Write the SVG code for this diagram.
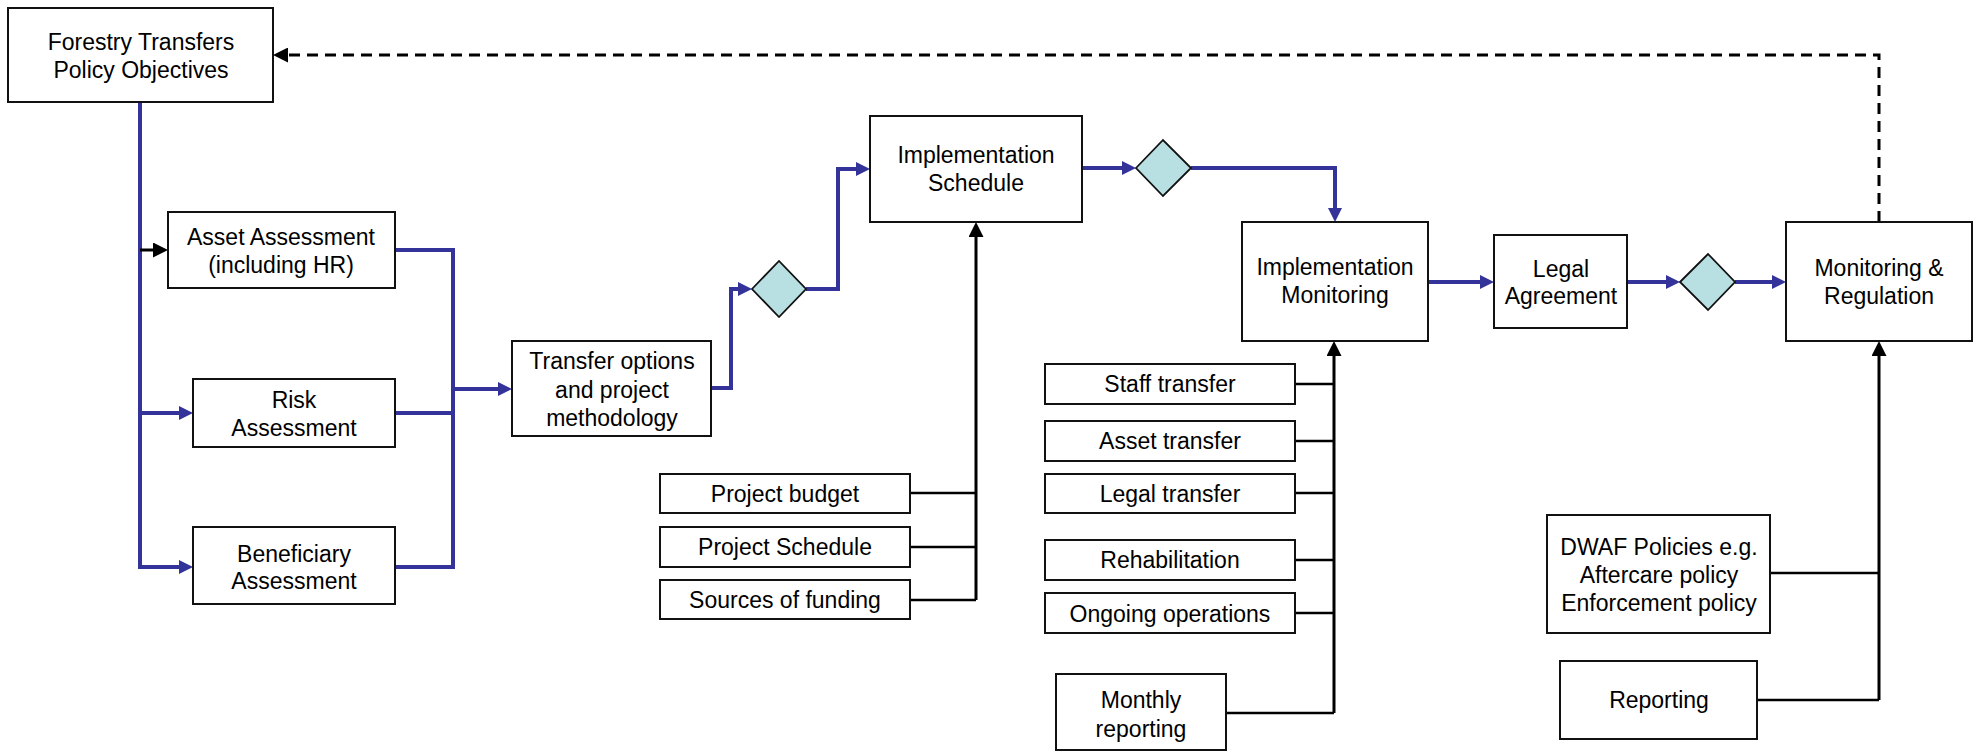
<svg xmlns="http://www.w3.org/2000/svg" width="1981" height="752" viewBox="0 0 1981 752">
<style>
.box{fill:#fff;stroke:#111;stroke-width:2}
.dia{fill:#b8dfe2;stroke:#111;stroke-width:1.8}
text{font-family:"Liberation Sans",Arial,sans-serif;font-size:23px;fill:#000;text-anchor:middle}
.bl{fill:none;stroke:#333399;stroke-width:4}
.bk{fill:none;stroke:#000;stroke-width:3}
.bk2{fill:none;stroke:#000;stroke-width:2.5}
.dash{fill:none;stroke:#000;stroke-width:3;stroke-dasharray:11 7}
</style>
<defs>
<marker id="ab" viewBox="0 0 14 14" refX="2" refY="7" markerWidth="14" markerHeight="14" markerUnits="userSpaceOnUse" orient="auto"><path d="M0,0 L14,7 L0,14 z" fill="#333399"/></marker>
<marker id="ak" viewBox="0 0 15 15" refX="2" refY="7.5" markerWidth="15" markerHeight="15" markerUnits="userSpaceOnUse" orient="auto"><path d="M0,0 L15,7.5 L0,15 z" fill="#000"/></marker>
</defs>
<rect width="1981" height="752" fill="#fff"/>
<g id="connectors">
<path class="dash" d="M1879,222 V55 H286" marker-end="url(#ak)"/>
<path class="bl" d="M140,102 V567 H181" marker-end="url(#ab)"/>
<path class="bl" d="M140,413 H181" marker-end="url(#ab)"/>
<path class="bk" d="M140,250 H155" marker-end="url(#ak)"/>
<path class="bl" d="M395,250 H453 V567 H395"/>
<path class="bl" d="M395,413 H453"/>
<path class="bl" d="M453,389 H500" marker-end="url(#ab)"/>
<path class="bl" d="M711,388 H731 V289 H740" marker-end="url(#ab)"/>
<path class="bl" d="M806,289 H838 V169 H858" marker-end="url(#ab)"/>
<path class="bl" d="M1082,168 H1124" marker-end="url(#ab)"/>
<path class="bl" d="M1191,168 H1335 V210" marker-end="url(#ab)"/>
<path class="bl" d="M1428,282 H1482" marker-end="url(#ab)"/>
<path class="bl" d="M1627,282 H1668" marker-end="url(#ab)"/>
<path class="bl" d="M1735,282 H1774" marker-end="url(#ab)"/>
<path class="bk" d="M976,600 V235" marker-end="url(#ak)"/>
<path class="bk2" d="M910,493 H976 M910,547 H976 M910,600 H976"/>
<path class="bk" d="M1334,713 V354" marker-end="url(#ak)"/>
<path class="bk2" d="M1295,384 H1334 M1295,441 H1334 M1295,493 H1334 M1295,560 H1334 M1295,613 H1334 M1226,713 H1334"/>
<path class="bk" d="M1879,700 V354" marker-end="url(#ak)"/>
<path class="bk2" d="M1770,573 H1879 M1757,700 H1879"/>
</g>
<g id="forestry"><rect class="box" x="8" y="8" width="265" height="94"/><text x="141" y="50">Forestry Transfers</text><text x="141" y="78">Policy Objectives</text></g>
<g id="asset-assessment"><rect class="box" x="168" y="212" width="227" height="76"/><text x="281" y="245">Asset Assessment</text><text x="281" y="273">(including HR)</text></g>
<g id="risk-assessment"><rect class="box" x="193" y="379" width="202" height="68"/><text x="294" y="408">Risk</text><text x="294" y="436">Assessment</text></g>
<g id="beneficiary-assessment"><rect class="box" x="193" y="527" width="202" height="77"/><text x="294" y="562">Beneficiary</text><text x="294" y="589">Assessment</text></g>
<g id="transfer-options"><rect class="box" x="512" y="341" width="199" height="95"/><text x="612" y="369">Transfer options</text><text x="612" y="398">and project</text><text x="612" y="426">methodology</text></g>
<g id="decision-1"><polygon class="dia" points="752,289 779,261 806,289 779,317"/></g>
<g id="implementation-schedule"><rect class="box" x="870" y="116" width="212" height="106"/><text x="976" y="163">Implementation</text><text x="976" y="191">Schedule</text></g>
<g id="decision-2"><polygon class="dia" points="1136,168 1163,140 1191,168 1163,196"/></g>
<g id="implementation-monitoring"><rect class="box" x="1242" y="222" width="186" height="119"/><text x="1335" y="275">Implementation</text><text x="1335" y="303">Monitoring</text></g>
<g id="legal-agreement"><rect class="box" x="1494" y="235" width="133" height="93"/><text x="1561" y="277">Legal</text><text x="1561" y="304">Agreement</text></g>
<g id="decision-3"><polygon class="dia" points="1680,282 1708,254 1735,282 1708,310"/></g>
<g id="monitoring-regulation"><rect class="box" x="1786" y="222" width="186" height="119"/><text x="1879" y="276">Monitoring &amp;</text><text x="1879" y="304">Regulation</text></g>
<g id="project-budget"><rect class="box" x="660" y="474" width="250" height="39"/><text x="785" y="502">Project budget</text></g>
<g id="project-schedule"><rect class="box" x="660" y="527" width="250" height="40"/><text x="785" y="555">Project Schedule</text></g>
<g id="sources-of-funding"><rect class="box" x="660" y="580" width="250" height="39"/><text x="785" y="608">Sources of funding</text></g>
<g id="staff-transfer"><rect class="box" x="1045" y="364" width="250" height="40"/><text x="1170" y="392">Staff transfer</text></g>
<g id="asset-transfer"><rect class="box" x="1045" y="421" width="250" height="40"/><text x="1170" y="449">Asset transfer</text></g>
<g id="legal-transfer"><rect class="box" x="1045" y="474" width="250" height="39"/><text x="1170" y="502">Legal transfer</text></g>
<g id="rehabilitation"><rect class="box" x="1045" y="540" width="250" height="40"/><text x="1170" y="568">Rehabilitation</text></g>
<g id="ongoing-operations"><rect class="box" x="1045" y="593" width="250" height="40"/><text x="1170" y="622">Ongoing operations</text></g>
<g id="monthly-reporting"><rect class="box" x="1056" y="674" width="170" height="76"/><text x="1141" y="708">Monthly</text><text x="1141" y="737">reporting</text></g>
<g id="dwaf-policies"><rect class="box" x="1547" y="515" width="223" height="118"/><text x="1659" y="555">DWAF Policies e.g.</text><text x="1659" y="583">Aftercare policy</text><text x="1659" y="611">Enforcement policy</text></g>
<g id="reporting"><rect class="box" x="1560" y="661" width="197" height="78"/><text x="1659" y="708">Reporting</text></g>
</svg>
